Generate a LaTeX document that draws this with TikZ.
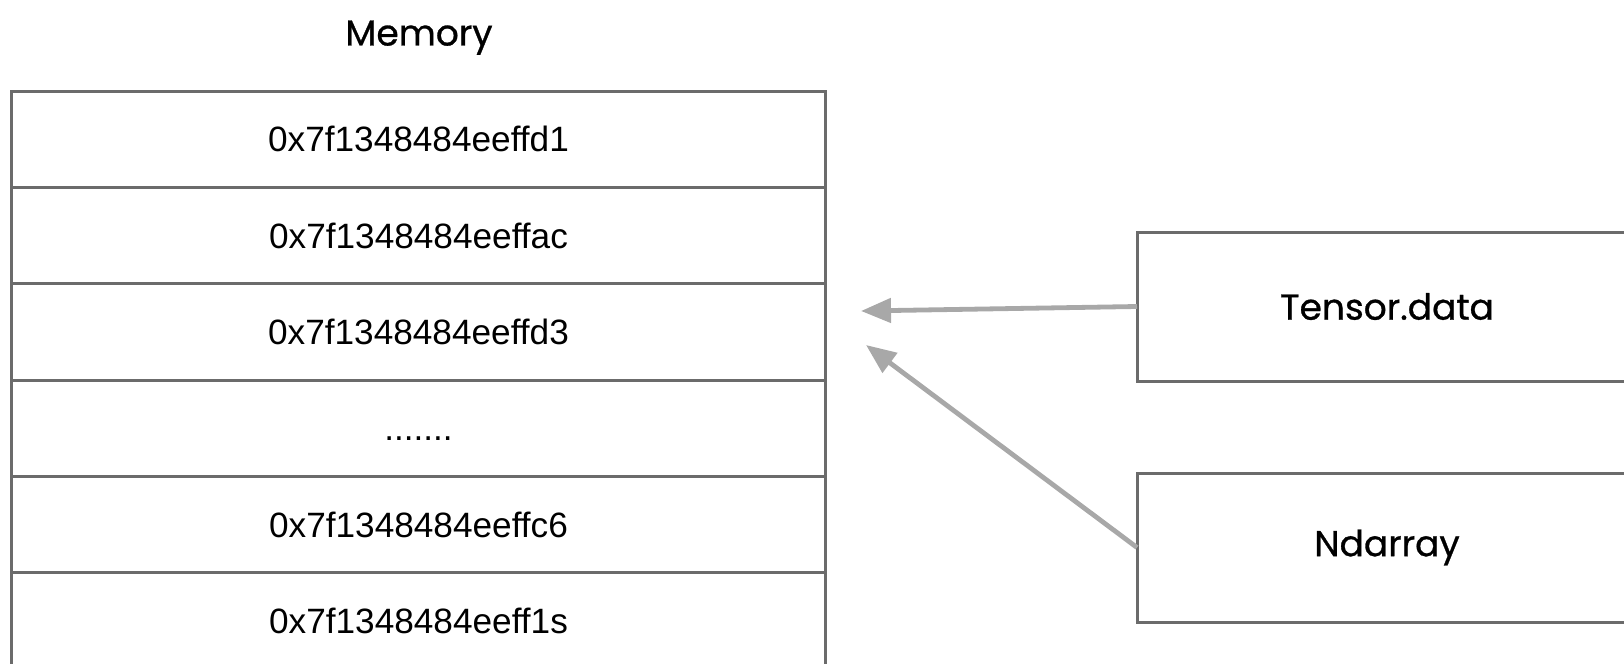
\documentclass[tikz,border=0pt]{standalone}
\usepackage{fontspec}
\usetikzlibrary{arrows.meta}
\newfontfamily\labelfont[FakeBold=0.8]{Poppins}
\newfontfamily\addrfont{Liberation Sans}
\definecolor{cellgray}{HTML}{6B6B6B}
\definecolor{arrowgray}{HTML}{A8A8A8}

\begin{document}
\begin{tikzpicture}[x=0.5pt, y=-0.5pt,
  every node/.style={outer sep=0pt},
  cell/.style={draw=cellgray, line width=1.5pt, minimum width=407pt, minimum height=48.2pt, inner sep=0pt, text height=12.6pt, text depth=0pt, font=\addrfont\fontsize{17.6}{20}\selectfont},
  box/.style={draw=cellgray, line width=1.5pt, minimum width=250pt, minimum height=74.5pt, font=\labelfont\fontsize{18}{22}\selectfont},
  ptr/.style={draw=arrowgray, line width=2.4pt, -{Triangle[length=15pt,width=12pt]}}]
\useasboundingbox (0,0) rectangle (1624,664);
\clip (0,0) rectangle (1624,664);
\node[anchor=base, font=\labelfont\fontsize{18}{22}\selectfont] (memtitle) at (419,45.5) {Memory};
\node[cell] (cell1) at (418.5,139.2) {0x7f1348484eeffd1};
\node[cell] (cell2) at (418.5,235.6) {0x7f1348484eeffac};
\node[cell] (cell3) at (418.5,332) {0x7f1348484eeffd3};
\node[cell] (cell4) at (418.5,428.2) {.......};
\node[cell] (cell5) at (418.5,524.4) {0x7f1348484eeffc6};
\node[cell] (cell6) at (418.5,620.6) {0x7f1348484eeff1s};

\node[box] (tensor) at (1387,306.5) {Tensor.data};
\node[box] (ndarray) at (1387,547.5) {Ndarray};

\coordinate (tipA) at (861,311);
\coordinate (tipB) at (866,345);
\draw[ptr] (tensor.west) -- (tipA);
\draw[ptr] (ndarray.west) -- (tipB);
\end{tikzpicture}
\end{document}
